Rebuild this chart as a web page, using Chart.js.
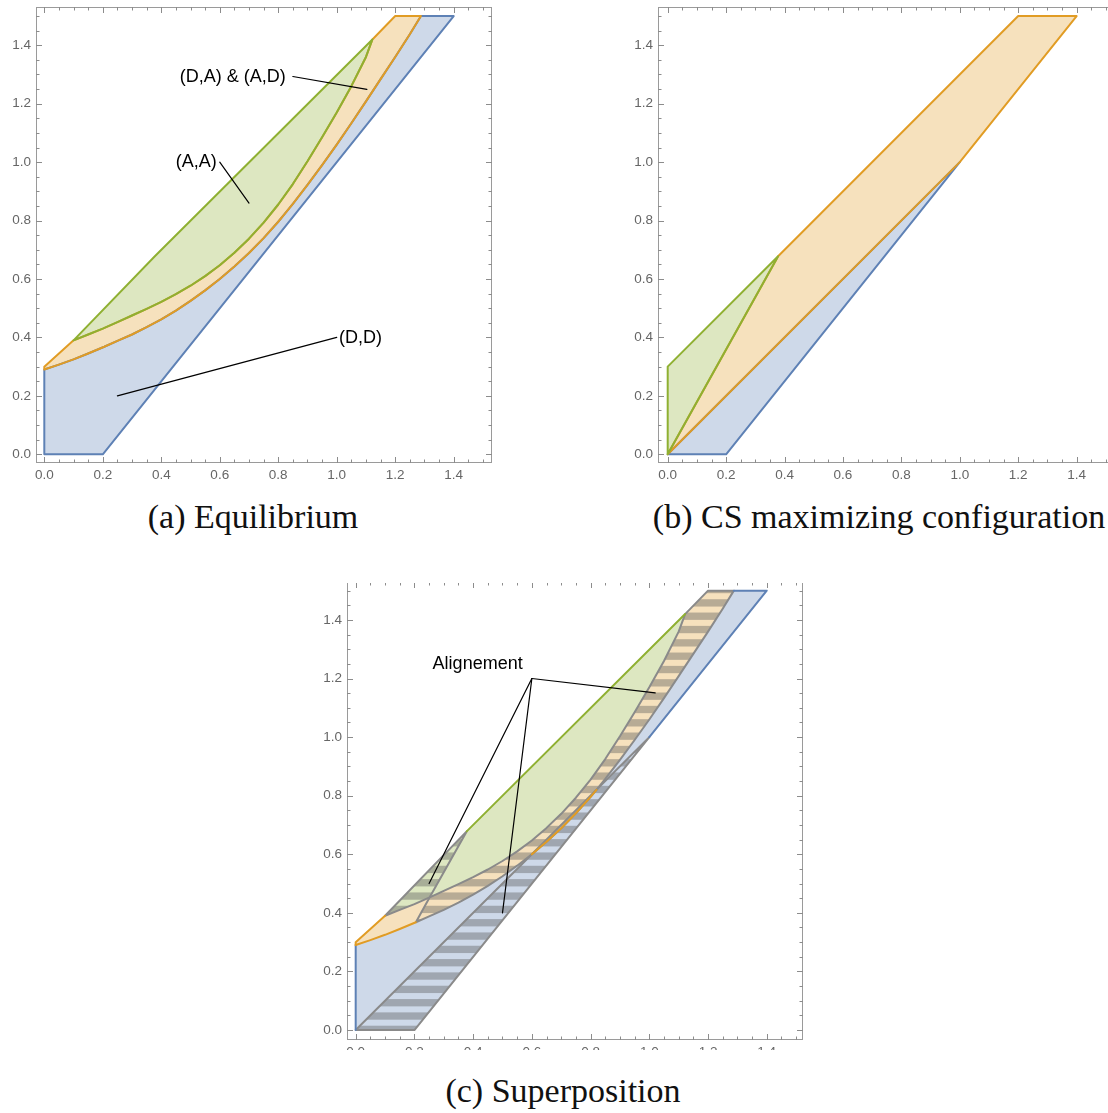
<!DOCTYPE html>
<html lang="en">
<head>
<meta charset="UTF-8">
<title>Equilibrium, CS maximizing configuration, Superposition</title>
<script src="https://cdn.jsdelivr.net/npm/chart.js"></script>
<style>
    * { margin: 0; padding: 0; box-sizing: border-box; }
    html, body { width: 1108px; height: 1113px; overflow: hidden; background: #fff; }
    .panel { position: absolute; }
    .clip { position: absolute; overflow: hidden; }
    .caption {
        position: absolute;
        font-family: "Liberation Serif", "Times New Roman", serif;
        font-size: 34px;
        line-height: 34px;
        color: #111;
        white-space: nowrap;
        transform: translateX(-50%);
    }
</style>
</head>
<body>

<div class="panel" style="left:0;top:0;"><canvas id="chartA" width="500" height="490"></canvas></div>
<div class="panel" style="left:620px;top:0;"><canvas id="chartB" width="500" height="490"></canvas></div>
<div class="clip" style="left:300px;top:583px;width:520px;height:467px;">
    <canvas id="chartC" width="520" height="510" style="position:absolute;left:0;top:-23px;"></canvas>
</div>

<div class="caption" style="left:253px;top:500px;">(a) Equilibrium</div>
<div class="caption" style="left:879px;top:500px;">(b) CS maximizing configuration</div>
<div class="caption" style="left:563px;top:1074px;">(c) Superposition</div>

<script>
    // ticks, same on every panel
    const majorTicks = [0, 0.2, 0.4, 0.6, 0.8, 1.0, 1.2, 1.4];
    const tickLabels = ['0.0', '0.2', '0.4', '0.6', '0.8', '1.0', '1.2', '1.4'];
    const minorTicks = [0.05, 0.1, 0.15, 0.25, 0.3, 0.35, 0.45, 0.5, 0.55, 0.65, 0.7, 0.75,
                        0.85, 0.9, 0.95, 1.05, 1.1, 1.15, 1.25, 1.3, 1.35, 1.45, 1.5];

    // (a) equilibrium region boundaries  [x, y]
    const ddOuter   = [[0, 0.29], [0, 0], [0.2, 0], [1.4, 1.5], [1.288, 1.5]];
    const orangeLow = [[0, 0.29], [0.05, 0.307], [0.1, 0.325], [0.15, 0.345], [0.205, 0.368],
                       [0.25, 0.388], [0.3, 0.41], [0.35, 0.435], [0.4, 0.462], [0.45, 0.492],
                       [0.5, 0.525], [0.55, 0.561], [0.6, 0.6], [0.65, 0.643], [0.7, 0.689],
                       [0.75, 0.74], [0.8, 0.796], [0.82, 0.82], [0.85, 0.857], [0.9, 0.922],
                       [0.95, 0.99], [1.0, 1.06], [1.05, 1.133], [1.1, 1.208], [1.15, 1.284],
                       [1.2, 1.36], [1.25, 1.438], [1.288, 1.5]];
    const orangeLeft = [[0, 0.29], [0, 0.3], [0.1, 0.39]];
    const orangeTop  = [[1.122, 1.42], [1.2, 1.5], [1.288, 1.5]];
    const greenLow  = [[0.1, 0.39], [0.15, 0.41], [0.2, 0.43], [0.252, 0.453], [0.3, 0.475],
                       [0.35, 0.498], [0.4, 0.522], [0.45, 0.548], [0.5, 0.577], [0.55, 0.61],
                       [0.6, 0.647], [0.65, 0.69], [0.7, 0.738], [0.75, 0.793], [0.8, 0.855],
                       [0.85, 0.925], [0.9, 1.003], [0.95, 1.085], [1.0, 1.17], [1.05, 1.26],
                       [1.1, 1.36], [1.122, 1.42]];
    const greenUp   = [[0.1, 0.39], [0.378, 0.678], [1.122, 1.42]];

    // (b) CS maximizing configuration
    const csBlue   = [[0, 0], [0.2, 0], [1.0, 1.0], [0, 0]];
    const csOrange = [[0, 0], [1.0, 1.0], [1.4, 1.5], [1.2, 1.5], [0.378, 0.678], [0, 0]];
    const csGreen  = [[0, 0], [0, 0.3], [0.378, 0.678], [0, 0]];

    // annotations: text, anchor [x, y], alignment, leader lines
    const labelsA = [
        { text: '(D,A) & (A,D)', at: [0.826, 1.293], align: 'right' },
        { text: '(A,A)', at: [0.59, 1.0], align: 'right' },
        { text: '(D,D)', at: [1.008, 0.398], align: 'left' }
    ];
    const leadersA = [
        [[0.85, 1.293], [1.103, 1.249]],
        [[0.6, 1.0], [0.70, 0.86]],
        [[1.0, 0.4], [0.25, 0.2]]
    ];
    const labelsC = [{ text: 'Alignement', at: [0.262, 1.248], align: 'left' }];
    const leadersC = [
        [[0.6, 1.2], [1.02, 1.151]],
        [[0.6, 1.2], [0.25, 0.5]],
        [[0.6, 1.2], [0.5, 0.4]]
    ];

    const BLUE = '#5e81b5', ORANGE = '#e19c24', GREEN = '#8fb032', GRAY = '#8a8a8a';
    const BLUE_F = 'rgba(94,129,181,0.3)', ORANGE_F = 'rgba(225,156,36,0.3)', GREEN_F = 'rgba(143,176,50,0.3)';

    function xy(arr) { return arr.map(p => ({ x: p[0], y: p[1] })); }
    function rev(arr) { return arr.slice().reverse(); }
    function part(arr, x0, x1) { return arr.filter(p => p[0] >= x0 - 1e-9 && p[0] <= x1 + 1e-9); }

    function line(points, color, width, extra) {
        return Object.assign({
            data: xy(points), showLine: true, borderColor: color, borderWidth: width,
            pointRadius: 0, pointHoverRadius: 0, fill: false, tension: 0,
            borderJoinStyle: 'round', borderCapStyle: 'round'
        }, extra || {});
    }

    // polygons of (a), reused in (c)
    const polyBlueA   = ddOuter.concat(rev(orangeLow).slice(1));
    const polyOrangeA = orangeLow.concat(rev(orangeTop).slice(1), rev(greenLow).slice(1), rev(orangeLeft).slice(1));
    const polyGreenA  = greenLow.concat(rev(greenUp).slice(1));

    // aligned parts of (c)
    const stripeBlue = [[0, 0], [0.2, 0], [1.0, 1.0]].concat(rev(part(orangeLow, 0.6, 0.82)), [[0, 0]]);
    const stripeOrange = part(orangeLow, 0.205, 0.6).concat(
        part(orangeLow, 0.82, 1.288), [[1.2, 1.5], [1.122, 1.42]],
        rev(part(greenLow, 0.252, 1.122)), [[0.205, 0.368]]);
    const stripeGreen = [[0.1, 0.39], [0.378, 0.678]].concat(rev(part(greenLow, 0.1, 0.252)));

    // fills closed polygons and hatched regions before Chart.js strokes them
    const regionPlugin = {
        id: 'regions',
        beforeDatasetsDraw(chart) {
            const ctx = chart.ctx, area = chart.chartArea, ys = chart.scales.y;
            ctx.save();
            ctx.beginPath();
            ctx.rect(area.left, area.top, area.width, area.height);
            ctx.clip();
            chart.data.datasets.forEach((ds, i) => {
                if (!ds.polyFill && !ds.stripes) return;
                const pts = chart.getDatasetMeta(i).data;
                ctx.beginPath();
                pts.forEach((p, j) => j ? ctx.lineTo(p.x, p.y) : ctx.moveTo(p.x, p.y));
                ctx.closePath();
                if (ds.polyFill) {
                    ctx.fillStyle = ds.polyFill;
                    ctx.fill();
                }
                if (ds.stripes) {
                    ctx.save();
                    ctx.clip();
                    ctx.fillStyle = 'rgba(90,90,90,0.4)';
                    for (let v = -0.0103; v < 1.6; v += 0.0455) {
                        const top = ys.getPixelForValue(v + 0.025);
                        const bot = ys.getPixelForValue(v);
                        ctx.fillRect(area.left, top, area.width, bot - top);
                    }
                    ctx.restore();
                }
            });
            ctx.restore();
        }
    };

    // Mathematica-like frame with inward ticks on all four sides
    const framePlugin = {
        id: 'frame',
        afterDatasetsDraw(chart) {
            const ctx = chart.ctx, a = chart.chartArea, xs = chart.scales.x, ys = chart.scales.y;
            ctx.save();
            ctx.strokeStyle = '#9a9a9a';
            ctx.lineWidth = 1;
            ctx.strokeRect(a.left + 0.5, a.top + 0.5, a.width - 1, a.height - 1);
            ctx.strokeStyle = '#8c8c8c';
            const draw = (vals, len) => {
                ctx.beginPath();
                vals.forEach(v => {
                    const px = Math.round(xs.getPixelForValue(v)) + 0.5;
                    const py = Math.round(ys.getPixelForValue(v)) + 0.5;
                    ctx.moveTo(px, a.bottom); ctx.lineTo(px, a.bottom - len);
                    ctx.moveTo(px, a.top); ctx.lineTo(px, a.top + len);
                    ctx.moveTo(a.left, py); ctx.lineTo(a.left + len, py);
                    ctx.moveTo(a.right, py); ctx.lineTo(a.right - len, py);
                });
                ctx.stroke();
            };
            draw(majorTicks, 6);
            draw(minorTicks, 3.5);
            ctx.restore();
        }
    };

    function notesPlugin(labels) {
        return {
            id: 'notes',
            afterDraw(chart) {
                const ctx = chart.ctx, xs = chart.scales.x, ys = chart.scales.y;
                ctx.save();
                ctx.fillStyle = '#000';
                ctx.font = '18px "Liberation Sans", Arial, sans-serif';
                ctx.textBaseline = 'middle';
                labels.forEach(l => {
                    ctx.textAlign = l.align;
                    ctx.fillText(l.text, xs.getPixelForValue(l.at[0]), ys.getPixelForValue(l.at[1]));
                });
                ctx.restore();
            }
        };
    }

    function makeChart(id, datasets, box, labels) {
        const tickFont = { family: '"Liberation Sans", Arial, sans-serif', size: 13.5 };
        return new Chart(document.getElementById(id), {
            type: 'scatter',
            data: { datasets: datasets },
            options: {
                responsive: false,
                animation: false,
                events: [],
                layout: { padding: { left: 0, top: box.top, right: box.right, bottom: 0 } },
                plugins: { legend: { display: false }, tooltip: { enabled: false } },
                scales: {
                    x: {
                        type: 'linear', min: box.xmin, max: box.xmax,
                        grid: { display: false, drawTicks: false }, border: { display: false },
                        afterBuildTicks: s => { s.ticks = majorTicks.map(v => ({ value: v })); },
                        afterFit: s => { s.height = box.xh; s.paddingLeft = 0; s.paddingRight = 0; },
                        ticks: { font: tickFont, color: '#666', padding: 4, maxRotation: 0, autoSkip: false,
                                 callback: (v, i) => tickLabels[i] }
                    },
                    y: {
                        type: 'linear', min: box.ymin, max: box.ymax,
                        grid: { display: false, drawTicks: false }, border: { display: false },
                        afterBuildTicks: s => { s.ticks = majorTicks.map(v => ({ value: v })); },
                        afterFit: s => { s.width = box.yw; s.paddingTop = 0; s.paddingBottom = 0; },
                        ticks: { font: tickFont, color: '#666', padding: 5, autoSkip: false,
                                 callback: (v, i) => tickLabels[i] }
                    }
                }
            },
            plugins: [regionPlugin, framePlugin, notesPlugin(labels)]
        });
    }

    // (a) Equilibrium  (lower order is drawn on top)
    makeChart('chartA', [
        line(polyBlueA, BLUE, 2, { polyFill: BLUE_F, order: 4 }),
        line(polyOrangeA, ORANGE, 2, { polyFill: ORANGE_F, order: 3 }),
        line(polyGreenA, GREEN, 2, { polyFill: GREEN_F, order: 2 }),
        ...leadersA.map(l => line(l, '#000', 1.2, { order: 1 }))
    ], { top: 7, right: 8, xh: 27, yw: 36, xmin: -0.0284, xmax: 1.531, ymin: -0.0298, ymax: 1.531 }, labelsA);

    // (b) CS maximizing configuration
    makeChart('chartB', [
        line(csBlue, BLUE, 2, { polyFill: BLUE_F, order: 3 }),
        line(csOrange, ORANGE, 2, { polyFill: ORANGE_F, order: 2 }),
        line(csGreen, GREEN, 2, { polyFill: GREEN_F, order: 1 })
    ], { top: 7, right: 6, xh: 27, yw: 38, xmin: -0.0332, xmax: 1.528, ymin: -0.0298, ymax: 1.531 }, []);

    // (c) Superposition
    makeChart('chartC', [
        line(polyBlueA, 'rgba(0,0,0,0)', 0, { polyFill: BLUE_F, order: 20 }),
        line(polyOrangeA, 'rgba(0,0,0,0)', 0, { polyFill: ORANGE_F, order: 19 }),
        line(polyGreenA, 'rgba(0,0,0,0)', 0, { polyFill: GREEN_F, order: 18 }),
        line(stripeBlue, GRAY, 2, { stripes: true, order: 12 }),
        line(stripeOrange, GRAY, 2, { stripes: true, order: 11 }),
        line(stripeGreen, GRAY, 2, { stripes: true, order: 10 }),
        line([[0, 0.29], [0, 0]], BLUE, 2, { order: 6 }),
        line([[1.0, 1.0], [1.4, 1.5], [1.288, 1.5]], BLUE, 2, { order: 6 }),
        line(part(greenUp, 0.378, 1.122), GREEN, 2, { order: 5 }),
        line(orangeLeft, ORANGE, 2, { order: 4 }),
        line(part(orangeLow, 0, 0.205), ORANGE, 2, { order: 4 }),
        line(part(orangeLow, 0.6, 0.82), ORANGE, 2, { order: 4 }),
        ...leadersC.map(l => line(l, '#000', 1.2, { order: 1 }))
    ], { top: 22, right: 17, xh: 30, yw: 47, xmin: -0.0296, xmax: 1.5235, ymin: -0.0341, ymax: 1.5295 }, labelsC);
</script>
</body>
</html>
